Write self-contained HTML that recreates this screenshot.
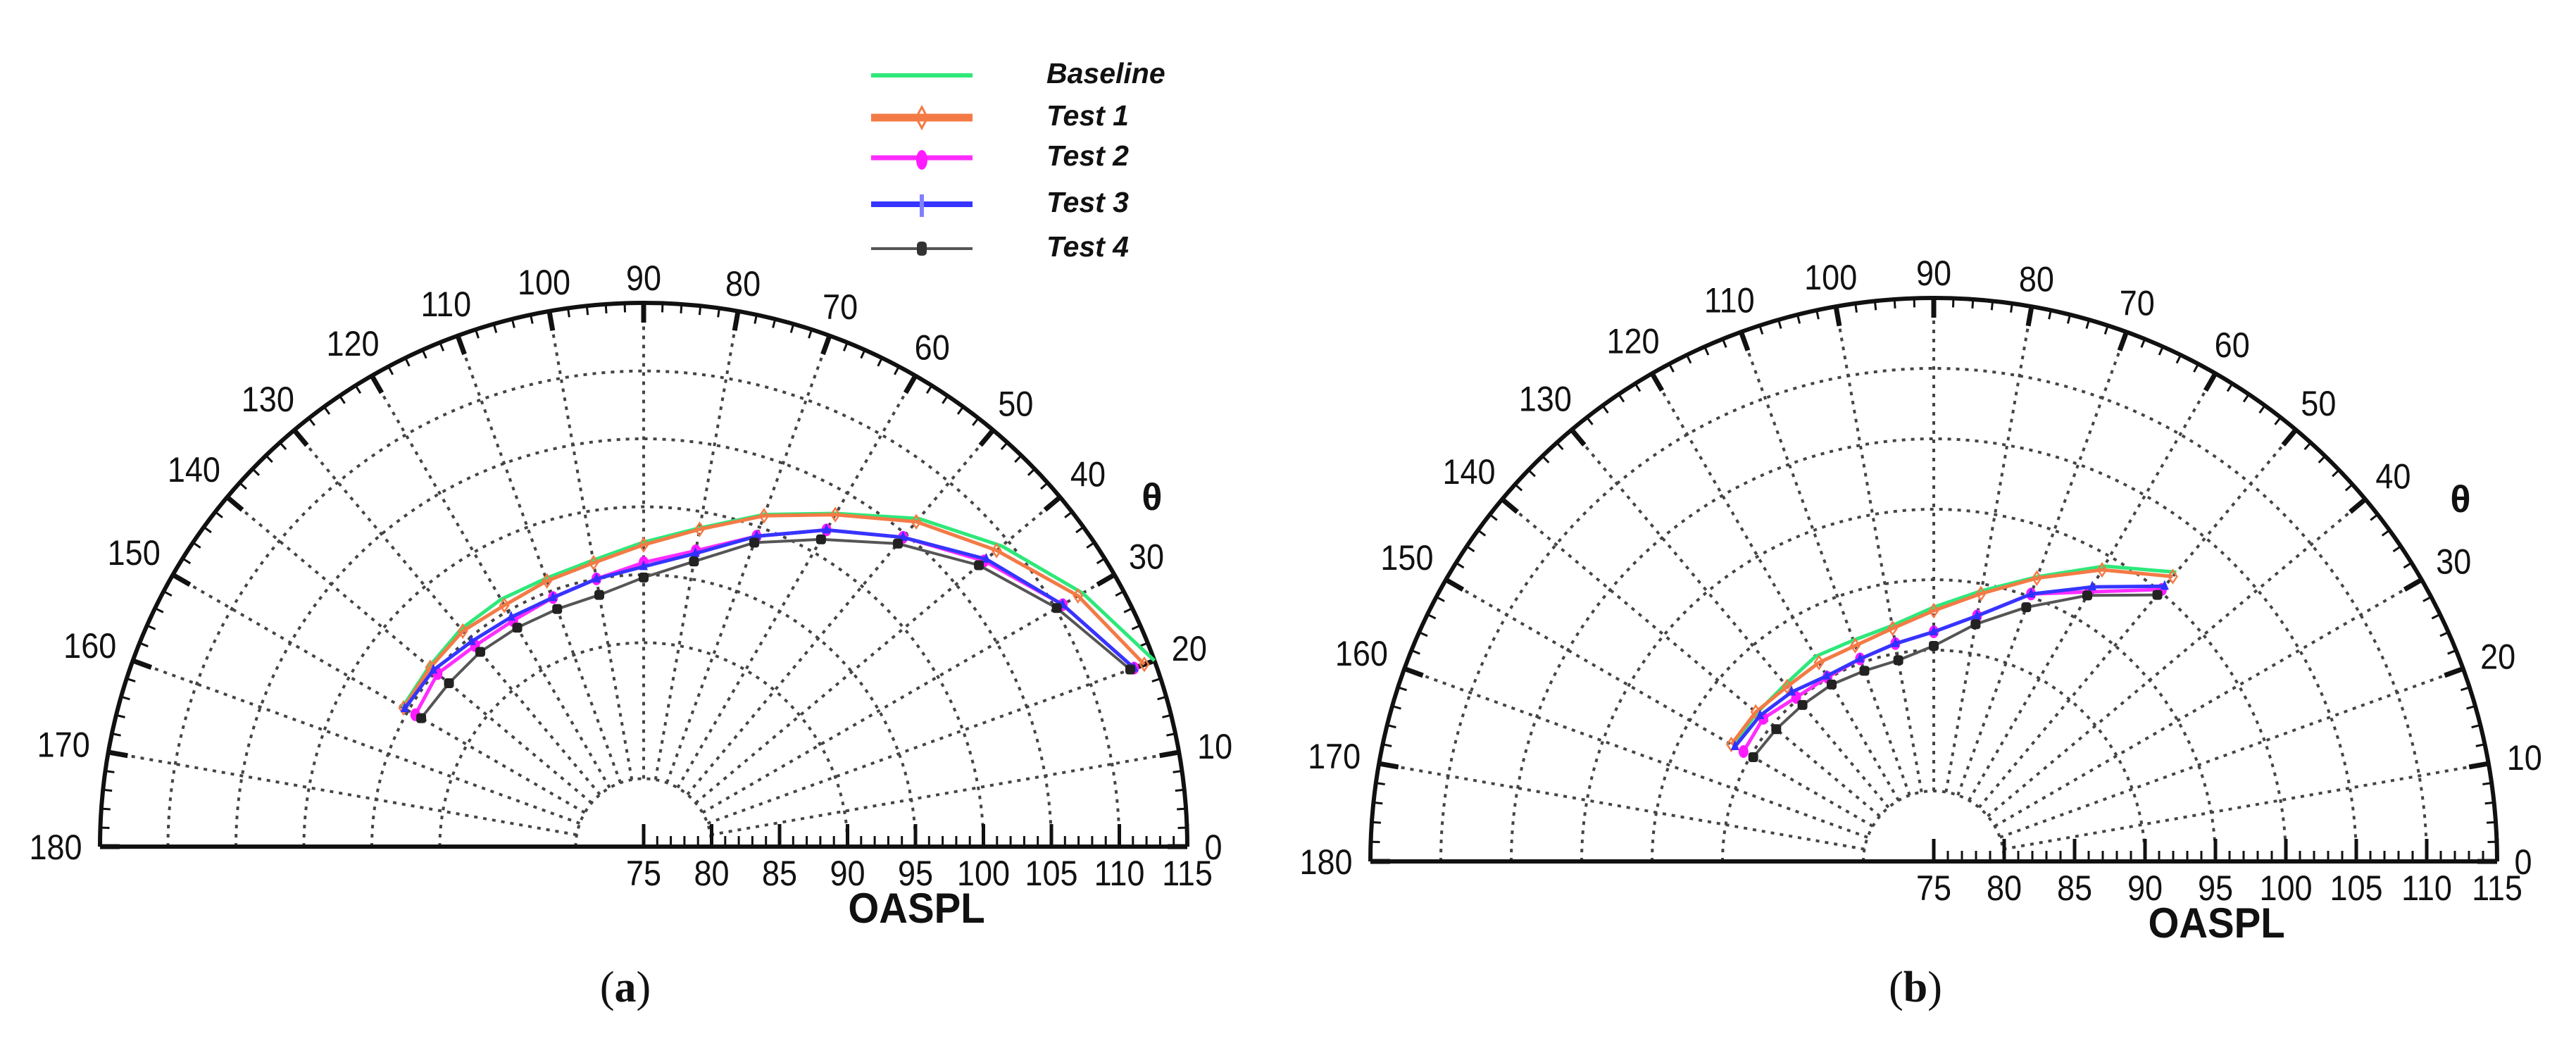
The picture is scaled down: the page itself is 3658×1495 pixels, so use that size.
<!DOCTYPE html>
<html><head><meta charset="utf-8"><style>
html,body{margin:0;padding:0;background:#fff;}
svg{display:block;}
</style></head><body>
<svg id="fig" width="3658" height="1495" viewBox="0 0 3658 1495" xmlns="http://www.w3.org/2000/svg">
<rect width="3658" height="1495" fill="#fff"/>
<g id="legend"></g>
<g id="chartA"></g>
<g id="chartB"></g>
</svg>
<script>
// ---- data (OASPL in dB at directivity angle theta, degrees) ----
const seriesNames = ["Baseline","Test 1","Test 2","Test 3","Test 4"];
const anglesA = [20,30,40,50,60,70,80,90,100,110,120,130,140,150];
const baselineA = [115.0,112.3,109.4,106.5,103.3,101.0,98.8,97.4,96.4,96.0,96.0,95.9,95.6,95.5];
const test1A   = [114.2,111.9,108.9,106.2,103.2,100.9,98.7,97.2,96.2,95.8,95.5,95.7,95.5,95.4];
const test2A   = [113.4,110.6,107.7,104.7,101.9,99.3,97.1,95.9,95.0,94.5,94.2,94.3,94.8,94.4];
const test3A   = [113.4,110.6,107.9,104.7,101.9,99.3,96.9,95.6,95.0,94.5,94.5,94.7,95.2,95.3];
const test4A   = [113.1,110.1,107.2,104.1,101.1,98.8,96.3,94.8,93.8,93.6,93.6,93.7,93.7,93.9];
const anglesB = [50,60,70,80,90,100,110,120,130,140,150];
const baselineB = [101.8,99.2,96.5,94.5,93.05,92.0,91.7,91.8,91.4,91.4,91.5];
const test1B   = [101.4,98.9,96.4,94.3,92.8,91.8,91.3,91.3,91.2,91.5,91.6];
const test2B   = [100.2,97.1,95.2,92.7,91.3,90.7,90.3,90.1,90.2,90.8,90.6];
const test3B   = [100.5,97.5,95.2,92.7,91.3,90.7,90.3,90.2,90.7,91.1,91.3];
const test4B   = [99.7,96.8,94.2,92.1,90.3,89.5,89.4,89.5,89.5,89.6,89.8];
const angleTicks = [0,10,20,30,40,50,60,70,80,90,100,110,120,130,140,150,160,170,180];
const oasplTicks = [75,80,85,90,95,100,105,110,115];
const gridCircles = [80,90,95,100,105,110];

const NS="http://www.w3.org/2000/svg";
function mk(tag,attrs,parent){const e=document.createElementNS(NS,tag);for(const k in attrs)e.setAttribute(k,attrs[k]);parent.appendChild(e);return e;}
const colors=["#2ee87a","#f47a45","#ff2cff","#3535ff","#555555"];
const widths=[5,5,5,5,4];

function drawChart(g,cx,cy,R,angles,series,label){
  const rMin=75,rMax=115;
  const rs=v=>(v-rMin)/(rMax-rMin)*R;
  const px=(th,v)=>cx+rs(v)*Math.cos(th*Math.PI/180);
  const py=(th,v)=>cy-rs(v)*Math.sin(th*Math.PI/180);
  const grid=mk('g',{},g);
  
  
  gridCircles.forEach(v=>{
    const r=rs(v);
    const c=mk('path',{d:`M${cx-r},${cy} A${r},${r} 0 0 1 ${cx+r},${cy}`,fill:'none',stroke:'#444','stroke-width':4,'stroke-dasharray':'5 8'},grid);
    
    
  });
  for(let a=10;a<=170;a+=10){
    const l=mk('line',{x1:px(a,80),y1:py(a,80),x2:px(a,115),y2:py(a,115),stroke:'#444','stroke-width':4,'stroke-dasharray':'5 8'},grid);
    
    
  }
  const arc=mk('path',{d:`M${cx-R},${cy} A${R},${R} 0 0 1 ${cx+R},${cy}`,fill:'none',stroke:'#111','stroke-width':6},g);
  
  
  const base=mk('line',{x1:cx-R,y1:cy,x2:cx+R,y2:cy,stroke:'#111','stroke-width':6},g);
  
  
  for(let a=0;a<=180;a+=2){
    const major=a%10===0, L=major?28:13;
    const c=Math.cos(a*Math.PI/180),s=Math.sin(a*Math.PI/180);
    mk('line',{x1:cx+R*c,y1:cy-R*s,x2:cx+(R-L)*c,y2:cy-(R-L)*s,stroke:'#111','stroke-width':major?7:3},g);
  }
  for(let v=75;v<=115;v++){
    const major=v%5===0, L=major?32:15;
    mk('line',{x1:cx+rs(v),y1:cy,x2:cx+rs(v),y2:cy-L,stroke:'#111','stroke-width':major?5:3},g);
  }
  angleTicks.forEach(a=>{
    const t=String(a), hw=t.length*13;
    const c=Math.cos(a*Math.PI/180),s=Math.sin(a*Math.PI/180);
    const d=R+24+hw*Math.abs(c)+12*s;
    const x=cx+d*c, y=cy-d*s+18;
    const e=mk('text',{transform:`translate(${x},${y}) scale(0.9,1)`,'text-anchor':'middle','font-family':'Liberation Sans, sans-serif','font-size':50,fill:'#111'},g);
    e.textContent=t;
    
    
  });
  oasplTicks.forEach(v=>{
    const e=mk('text',{transform:`translate(${cx+rs(v)},${cy+55}) scale(0.9,1)`,'text-anchor':'middle','font-family':'Liberation Sans, sans-serif','font-size':50,fill:'#111'},g);
    e.textContent=String(v);
    
    
  });
  const t1=mk('text',{transform:`translate(${cx+R*0.502},${cy+108}) scale(0.94,1)`,'text-anchor':'middle','font-family':'Liberation Sans, sans-serif','font-weight':'bold','font-size':60,fill:'#111'},g);
  t1.textContent='OASPL';
  
  
  const t2=mk('text',{x:cx+R*0.935,y:cy-R*0.645+20,'text-anchor':'middle','font-family':'Liberation Sans, sans-serif','font-weight':'bold','font-size':54,fill:'#111'},g);
  t2.textContent='θ';
  
  
  series.forEach((vals,i)=>{
    const pts=angles.map((a,k)=>`${px(a,vals[k]).toFixed(1)},${py(a,vals[k]).toFixed(1)}`).join(' ');
    const sg=mk('g',{},g);
    
    
    mk('polyline',{points:pts,fill:'none',stroke:colors[i],'stroke-width':widths[i],'stroke-linejoin':'round'},sg);
    angles.forEach((a,k)=>{
      const x=px(a,vals[k]),y=py(a,vals[k]);
      if(i===1) mk('path',{d:`M${x},${y-9} L${x+6},${y} L${x},${y+9} L${x-6},${y} Z`,fill:'none',stroke:colors[1],'stroke-width':2.5},sg);
      if(i===2) mk('ellipse',{cx:x,cy:y,rx:7,ry:9,fill:'#ff1aff'},sg);
      if(i===3) mk('path',{d:`M${x},${y-9} L${x+6},${y+5} L${x-6},${y+5} Z`,fill:'#3030ff'},sg);
      if(i===4) mk('rect',{x:x-7,y:y-7,width:14,height:14,rx:4,fill:'#222'},sg);
    });
  });
  const lb=mk('text',{x:cx-26,y:1422,'text-anchor':'middle','font-family':'Liberation Serif, serif','font-size':62,fill:'#111'},g);
  lb.innerHTML='(<tspan font-weight="bold">'+label+'</tspan>)';
  
  
}

drawChart(document.getElementById('chartA'),914,1202,772,anglesA,[baselineA,test1A,test2A,test3A,test4A],'a');
drawChart(document.getElementById('chartB'),2746,1223,800,anglesB,[baselineB,test1B,test2B,test3B,test4B],'b');

const lg=document.getElementById('legend');
const lys=[107,167,224,290,353], lw=[6,11,7,8,4];
seriesNames.forEach((n,i)=>{
  const e=mk('g',{},lg);
  
  
  const y=lys[i];
  mk('line',{x1:1237,y1:y,x2:1381,y2:y,stroke:colors[i],'stroke-width':lw[i]},e);
  const x=1309;
  if(i===1) mk('path',{d:`M${x},${y-15} L${x+8},${y} L${x},${y+15} L${x-8},${y} Z`,fill:'none',stroke:colors[1],'stroke-width':3},e);
  if(i===2) mk('ellipse',{cx:x,cy:y+3,rx:8,ry:14,fill:'#ff1aff'},e);
  if(i===3) mk('line',{x1:x,y1:y-14,x2:x,y2:y+18,stroke:'#8080ff','stroke-width':6},e);
  if(i===4) mk('rect',{x:x-7,y:y-10,width:14,height:20,rx:5,fill:'#333'},e);
  const t=mk('text',{x:1486,y:y+11,'font-family':'Liberation Sans, sans-serif','font-weight':'bold','font-style':'italic','font-size':41,fill:'#111'},e);
  t.textContent=n;
});
</script>
</body></html>
